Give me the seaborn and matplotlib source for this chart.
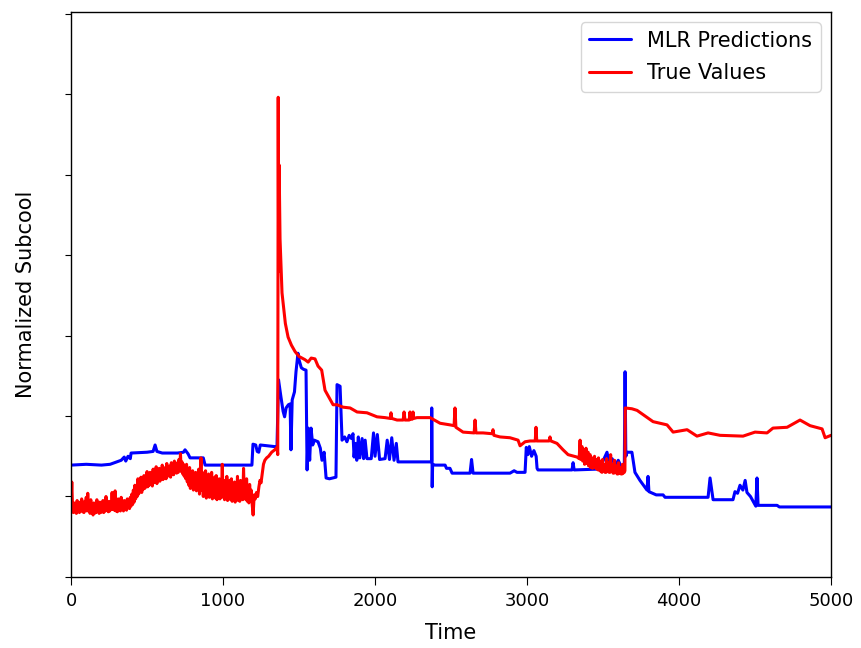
import numpy as np
import pandas as pd
import matplotlib
matplotlib.use('Agg')
import matplotlib.pyplot as plt
import seaborn as sns

# MLR predictions, (time, normalized subcool)
mlr_start = [(0, 1.39), (100, 1.40), (200, 1.39), (257, 1.40), (300, 1.43), (330, 1.45),
             (350, 1.49), (360, 1.44), (375, 1.50), (390, 1.47), (395, 1.54), (500, 1.55),
             (540, 1.56), (553, 1.64), (565, 1.56), (600, 1.54), (700, 1.54), (740, 1.55),
             (750, 1.58), (770, 1.53), (783, 1.48), (870, 1.48), (882, 1.39), (1190, 1.39),
             (1197, 1.65), (1215, 1.64), (1225, 1.56), (1235, 1.55), (1245, 1.64),
             (1340, 1.62), (1355, 1.62)]
mlr_middle = [(1365, 2.45), (1380, 2.25), (1395, 2.06), (1405, 1.99), (1415, 2.10),
              (1430, 2.14), (1441, 2.15), (1447, 1.58), (1455, 2.20), (1470, 2.30),
              (1480, 2.55), (1493, 2.78), (1500, 2.70), (1515, 2.60), (1530, 2.58),
              (1546, 2.57), (1553, 1.33), (1560, 1.85), (1570, 1.45), (1579, 1.85),
              (1590, 1.64), (1600, 1.70), (1625, 1.68), (1640, 1.60), (1651, 1.45),
              (1665, 1.55), (1678, 1.23), (1700, 1.22), (1743, 1.24), (1750, 2.39),
              (1770, 2.37), (1783, 1.70), (1800, 1.74), (1815, 1.68), (1830, 1.76),
              (1845, 1.72), (1855, 1.78), (1862, 1.49), (1870, 1.66), (1880, 1.45),
              (1890, 1.74), (1900, 1.48), (1915, 1.72), (1925, 1.47), (1935, 1.70),
              (1947, 1.47), (1975, 1.47), (1990, 1.79), (2000, 1.50), (2015, 1.77),
              (2030, 1.46), (2066, 1.47), (2080, 1.70), (2095, 1.46), (2110, 1.73),
              (2125, 1.45), (2140, 1.66), (2151, 1.43), (2300, 1.43), (2362, 1.43),
              (2372, 1.44), (2373, 2.10), (2376, 1.12), (2379, 1.40), (2395, 1.39),
              (2461, 1.39), (2470, 1.35), (2493, 1.35), (2507, 1.29), (2625, 1.29),
              (2635, 1.46), (2645, 1.29), (2888, 1.29), (2915, 1.32), (2934, 1.30),
              (2987, 1.30), (2995, 1.61), (3005, 1.52), (3015, 1.62), (3030, 1.50),
              (3045, 1.57), (3060, 1.50), (3066, 1.35), (3072, 1.33), (3296, 1.33),
              (3303, 1.42), (3310, 1.33), (3461, 1.34), (3490, 1.40), (3526, 1.55),
              (3540, 1.42), (3560, 1.47), (3580, 1.38), (3600, 1.45), (3620, 1.37),
              (3640, 1.40)]
mlr_end = [(3645, 2.55), (3650, 1.50), (3658, 1.55), (3690, 1.55), (3710, 1.30),
           (3743, 1.20), (3789, 1.08), (3796, 1.25), (3802, 1.06), (3850, 1.02),
           (3895, 1.02), (3908, 0.99), (4191, 0.99), (4204, 1.23), (4224, 0.96),
           (4355, 0.96), (4368, 1.06), (4385, 1.04), (4401, 1.14), (4420, 1.08),
           (4435, 1.20), (4447, 1.05), (4470, 1.00), (4490, 0.93), (4505, 0.88),
           (4513, 1.23), (4520, 0.89), (4645, 0.89), (4660, 0.87), (5000, 0.87)]

# true (measured) values
true_start = [
    (0, 0.90), (5, 1.18), (10, 0.86), (15, 0.80), (20, 0.92), (25, 0.81), (30, 0.88), (35, 0.79), (40, 0.95), (45, 0.82),
    (50, 0.90), (55, 0.80), (60, 0.93), (65, 0.84), (70, 0.97), (75, 0.81), (80, 0.91), (85, 0.80), (90, 0.94), (95, 0.83),
    (100, 0.99), (105, 0.82), (110, 1.04), (115, 0.84), (120, 0.92), (125, 0.79), (130, 0.96), (135, 0.80), (140, 0.88), (145, 0.77),
    (150, 0.92), (155, 0.79), (160, 0.86), (165, 0.80), (170, 0.96), (175, 0.82), (180, 0.90), (185, 0.79), (190, 0.93), (195, 0.80),
    (200, 0.88), (205, 0.81), (210, 0.95), (215, 0.80), (220, 0.90), (225, 0.82), (230, 1.00), (235, 0.83), (240, 0.91), (245, 0.81),
    (250, 0.94), (255, 0.82), (260, 0.90), (265, 0.84), (270, 1.05), (275, 0.84), (280, 0.95), (285, 0.83), (290, 1.07), (295, 0.82),
    (300, 0.92), (305, 0.81), (310, 0.97), (315, 0.83), (320, 0.90), (325, 0.82), (330, 0.99), (335, 0.84), (340, 0.92), (345, 0.82),
    (350, 0.95), (355, 0.84), (360, 0.90), (365, 0.83), (370, 0.97), (375, 0.86), (380, 0.93), (385, 0.85), (390, 0.99), (395, 0.88),
    (400, 1.03), (405, 0.90), (410, 1.08), (415, 0.93), (420, 1.14), (425, 0.97), (430, 1.10), (435, 1.00), (440, 1.22), (445, 1.03),
    (450, 1.18), (455, 1.06), (460, 1.24), (465, 1.05), (470, 1.20), (475, 1.09), (480, 1.26), (485, 1.10), (490, 1.22), (495, 1.12),
    (500, 1.31), (505, 1.12), (510, 1.27), (515, 1.14), (520, 1.30), (525, 1.16), (530, 1.25), (535, 1.13), (540, 1.34), (545, 1.17),
    (550, 1.30), (555, 1.18), (560, 1.37), (565, 1.16), (570, 1.31), (575, 1.20), (580, 1.35), (585, 1.19), (590, 1.30), (595, 1.22),
    (600, 1.39), (605, 1.21), (610, 1.33), (615, 1.24), (620, 1.36), (625, 1.22), (630, 1.41), (635, 1.25), (640, 1.35), (645, 1.26),
    (650, 1.38), (655, 1.24), (660, 1.42), (665, 1.28), (670, 1.36), (675, 1.27), (680, 1.44), (685, 1.30), (690, 1.38), (695, 1.29),
    (700, 1.42), (705, 1.30), (710, 1.46), (715, 1.34), (720, 1.53), (725, 1.31), (730, 1.43), (735, 1.28), (740, 1.40), (745, 1.25),
    (750, 1.37), (755, 1.22), (760, 1.40), (765, 1.18), (770, 1.33), (775, 1.14), (780, 1.36), (785, 1.10), (790, 1.28), (795, 1.12),
    (800, 1.32), (805, 1.08), (810, 1.26), (815, 1.10), (820, 1.30), (825, 1.07), (830, 1.22), (835, 1.12), (840, 1.34), (845, 1.03),
    (850, 1.20), (855, 1.48), (860, 1.08), (865, 1.30), (870, 1.00), (875, 1.25), (880, 1.04), (885, 1.32), (890, 0.98), (895, 1.20),
    (900, 1.02), (905, 1.28), (910, 0.99), (915, 1.18), (920, 1.03), (925, 1.30), (930, 0.97), (935, 1.15), (940, 1.01), (945, 1.24),
    (950, 0.98), (955, 1.26), (960, 0.96), (965, 1.14), (970, 1.00), (975, 1.22), (980, 0.97), (985, 1.18), (990, 1.05), (995, 1.40),
    (1000, 0.99), (1005, 1.20), (1010, 0.96), (1015, 1.16), (1020, 1.00), (1025, 1.25), (1030, 0.95), (1035, 1.12), (1040, 0.98), (1045, 1.20),
    (1050, 0.96), (1055, 1.22), (1060, 0.94), (1065, 1.10), (1070, 0.97), (1075, 1.18), (1080, 0.93), (1085, 1.14), (1090, 0.98), (1095, 1.25),
    (1100, 0.95), (1105, 1.16), (1110, 0.94), (1115, 1.20), (1120, 0.98), (1125, 1.10), (1130, 0.96), (1135, 1.35), (1140, 1.00), (1145, 1.15),
    (1150, 0.96), (1155, 1.22), (1160, 0.94), (1165, 1.10), (1170, 0.92), (1175, 1.15), (1180, 0.97), (1185, 1.08), (1190, 0.94), (1198, 0.77),
    (1205, 1.02), (1212, 0.97), (1220, 1.05), (1228, 1.00), (1236, 1.12), (1243, 1.20), (1250, 1.17), (1258, 1.28), (1266, 1.40), (1275, 1.45),
    (1287, 1.48), (1300, 1.50), (1320, 1.55), (1340, 1.58), (1355, 1.61), (1360, 1.52)]
true_peak = [(1363, 5.96), (1366, 3.80), (1369, 5.12), (1375, 4.20), (1388, 3.53),
             (1410, 3.15), (1428, 2.98), (1450, 2.88), (1474, 2.80), (1500, 2.74),
             (1539, 2.70), (1560, 2.67), (1580, 2.72), (1605, 2.71), (1625, 2.62),
             (1649, 2.57), (1671, 2.32), (1724, 2.14), (1750, 2.14), (1789, 2.11),
             (1836, 2.10), (1882, 2.05), (1947, 2.04), (2013, 1.99), (2066, 1.98),
             (2100, 1.97), (2105, 2.04), (2110, 1.97), (2145, 1.95), (2185, 1.95),
             (2191, 2.05), (2197, 1.95), (2211, 1.95), (2225, 1.95), (2230, 2.05),
             (2235, 1.96), (2245, 1.96), (2250, 2.05), (2255, 1.97), (2276, 1.98),
             (2362, 1.98), (2428, 1.91), (2493, 1.89), (2520, 1.88), (2526, 2.10),
             (2532, 1.86), (2579, 1.80), (2652, 1.79), (2658, 1.95), (2664, 1.79),
             (2711, 1.79), (2770, 1.78), (2776, 1.83), (2782, 1.76), (2822, 1.74),
             (2888, 1.73), (2941, 1.70), (2954, 1.63), (2987, 1.68), (3020, 1.69),
             (3054, 1.69), (3059, 1.86), (3064, 1.69), (3145, 1.69), (3151, 1.74),
             (3157, 1.69), (3197, 1.66), (3237, 1.58), (3270, 1.52), (3329, 1.49),
             (3343, 1.47)]
true_noise = [(3349, 1.70), (3353, 1.46), (3356, 1.58), (3362, 1.62), (3366, 1.44), (3369, 1.55),
              (3375, 1.58), (3379, 1.40), (3382, 1.50), (3388, 1.60), (3392, 1.41), (3395, 1.52),
              (3402, 1.55), (3405, 1.38), (3408, 1.47), (3415, 1.52), (3418, 1.36), (3421, 1.45),
              (3428, 1.48), (3431, 1.35), (3434, 1.44), (3441, 1.36), (3444, 1.50), (3447, 1.38),
              (3454, 1.35), (3457, 1.46), (3461, 1.34), (3467, 1.33), (3470, 1.48), (3474, 1.34),
              (3480, 1.32), (3484, 1.44), (3487, 1.31), (3493, 1.30), (3497, 1.46), (3500, 1.32),
              (3507, 1.33), (3510, 1.40), (3513, 1.30), (3520, 1.30), (3524, 1.47), (3527, 1.31),
              (3533, 1.32), (3537, 1.42), (3540, 1.30), (3546, 1.30), (3550, 1.52), (3553, 1.31),
              (3559, 1.32), (3563, 1.40), (3566, 1.29), (3572, 1.29), (3576, 1.45), (3579, 1.30),
              (3586, 1.31), (3589, 1.38), (3592, 1.28), (3599, 1.28), (3602, 1.42), (3605, 1.29),
              (3612, 1.30), (3615, 1.36), (3618, 1.28), (3625, 1.28), (3628, 1.40), (3632, 1.29),
              (3640, 1.30), (3644, 1.32)]
true_tail = [(3646, 2.10), (3690, 2.09), (3724, 2.07), (3829, 1.93), (3921, 1.89),
             (3961, 1.80), (4053, 1.83), (4118, 1.75), (4191, 1.79), (4270, 1.76),
             (4421, 1.75), (4500, 1.80), (4579, 1.79), (4618, 1.85), (4711, 1.86),
             (4796, 1.95), (4862, 1.88), (4941, 1.84), (4961, 1.73), (5000, 1.76)]

x_ticks = [0, 1000, 2000, 3000, 4000, 5000]
y_ticks = [0, 1, 2, 3, 4, 5, 6, 7]

mlr = pd.DataFrame(mlr_start + mlr_middle + mlr_end, columns=['Time', 'value'])
mlr['series'] = 'MLR Predictions'
true = pd.DataFrame(true_start + true_peak + true_noise + true_tail, columns=['Time', 'value'])
true['series'] = 'True Values'
df = pd.concat([mlr, true], ignore_index=True)

sns.set_style('ticks', {'axes.edgecolor': 'black', 'xtick.color': 'black',
                        'ytick.color': 'black', 'text.color': 'black',
                        'axes.labelcolor': 'black'})
plt.rcParams['font.family'] = ['DejaVu Sans']

fig = plt.figure(figsize=(8.61, 6.48), dpi=100)
ax = fig.add_axes([0.0825, 0.1096, 0.8827, 0.8719])

sns.lineplot(data=df, x='Time', y='value', hue='series', estimator=None, sort=False,
             palette={'MLR Predictions': 'blue', 'True Values': 'red'},
             linewidth=2.2, ax=ax)

ax.set_xlim(0, 5000)
ax.set_ylim(0, 7.02)
ax.set_xticks(x_ticks)
ax.set_yticks(y_ticks)
ax.set_yticklabels([])
ax.tick_params(axis='x', labelsize=13, length=6, pad=4.5)
ax.tick_params(axis='y', length=4)
ax.set_xlabel('Time', fontsize=15, labelpad=10)
ax.set_ylabel('Normalized Subcool', fontsize=15, labelpad=18)
for sp in ax.spines.values():
    sp.set_linewidth(1.0)

sns.move_legend(ax, 'upper right', title=None, fontsize=15, frameon=True,
                labelspacing=0.6)

fig.savefig('out.png', dpi=100)
